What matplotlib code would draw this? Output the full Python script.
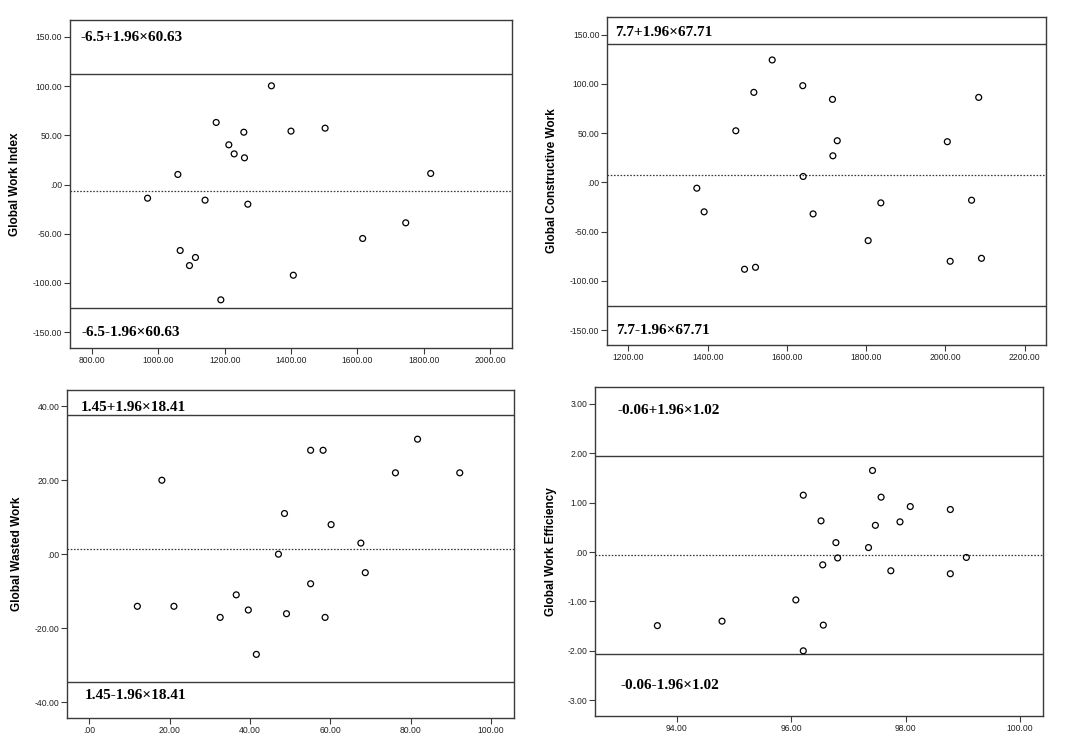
import numpy as np
import matplotlib.pyplot as plt
from matplotlib.ticker import FuncFormatter

plt.rcParams['font.family'] = ['Liberation Sans', 'DejaVu Sans']
plt.rcParams['axes.unicode_minus'] = False

# Global Work Index
gwi_x = [967.7, 1059, 1066, 1094, 1112, 1141, 1174.5, 1188.5, 1212.6, 1228.7,
         1257.8, 1259.8, 1269.9, 1341, 1400, 1407, 1502.8, 1616, 1745.8, 1821]
gwi_y = [-13.9, 10.2, -67.0, -82.3, -74.1, -15.9, 63.0, -117.1, 40.3, 31.1,
         53.1, 27.1, -20.0, 100.2, 54.2, -92.1, 57.2, -54.8, -38.9, 11.2]
gwi_bias, gwi_sd = -6.5, 60.63

# Global Constructive Work
gcw_x = [1372.6, 1391, 1471, 1493, 1516.5, 1520.7, 1562.8, 1640, 1641, 1666,
         1715, 1716, 1727, 1805, 1837, 2004.8, 2012, 2066, 2084, 2091]
gcw_y = [-5.8, -29.8, 52.5, -88.1, 91.5, -86.1, 124.4, 98.3, 6.1, -31.9,
         84.4, 27.1, 42.4, -59.0, -20.7, 41.4, -80.0, -18.0, 86.4, -77.0]
gcw_bias, gcw_sd = 7.7, 67.71

# Global Wasted Work
gww_x = [12.0, 18.1, 21.1, 32.6, 36.6, 39.6, 41.6, 47.1, 48.6, 49.1,
         55.1, 55.1, 58.2, 58.7, 60.2, 67.6, 68.7, 76.2, 81.7, 92.2]
gww_y = [-14.1, 20.0, -14.1, -17.1, -11.0, -15.1, -27.1, 0.0, 11.0, -16.1,
         28.1, -8.0, 28.1, -17.1, 8.0, 3.0, -5.0, 22.0, 31.1, 22.0]
gww_bias, gww_sd = 1.45, 18.41

# Global Work Efficiency
gwe_x = [93.66, 94.79, 96.08, 96.21, 96.21, 96.52, 96.55, 96.56, 96.78, 96.81,
         97.35, 97.42, 97.47, 97.57, 97.74, 97.90, 98.08, 98.78, 98.78, 99.06]
gwe_y = [-1.49, -1.40, -0.97, 1.15, -2.00, 0.63, -0.26, -1.48, 0.19, -0.12,
         0.09, 1.65, 0.54, 1.11, -0.38, 0.61, 0.92, 0.86, -0.44, -0.11]
gwe_bias, gwe_sd = -0.06, 1.02


def spss_fmt(v, pos):
    # SPSS 风格: .00 / -50.00
    if abs(v) < 1e-9:
        return '.00'
    s = f'{v:.2f}'
    if s.startswith('0.'):
        s = s[1:]
    elif s.startswith('-0.'):
        s = '-' + s[2:]
    return s


line_col = '#3a3a3a'

panels = [
    # 数据, 标签, 位置, 坐标范围, 刻度, 文字位置
    dict(x=gwi_x, y=gwi_y, bias=gwi_bias, sd=gwi_sd, label='Global Work Index',
         rect=[0.0646, 0.536, 0.4077, 0.4373], xlim=(734, 2066), ylim=(-166, 167),
         xticks=np.arange(800, 2001, 200), yticks=np.arange(-150, 151, 50),
         lab_x=-0.111, up=(0.023, 0.947), lo=(0.025, 0.048)),
    dict(x=gcw_x, y=gcw_y, bias=gcw_bias, sd=gcw_sd, label='Global Constructive Work',
         rect=[0.560, 0.540, 0.405, 0.4373], xlim=(1146, 2254), ylim=(-165, 168),
         xticks=np.arange(1200, 2201, 200), yticks=np.arange(-150, 151, 50),
         lab_x=-0.111, up=(0.019, 0.954), lo=(0.021, 0.044)),
    dict(x=gww_x, y=gww_y, bias=gww_bias, sd=gww_sd, label='Global Wasted Work',
         rect=[0.0618, 0.0427, 0.4124, 0.4373], xlim=(-5.5, 105.7), ylim=(-44.3, 44.4),
         xticks=np.arange(0, 101, 20), yticks=np.arange(-40, 41, 20),
         lab_x=-0.098, up=(0.031, 0.948), lo=(0.040, 0.069)),
    dict(x=gwe_x, y=gwe_y, bias=gwe_bias, sd=gwe_sd, label='Global Work Efficiency',
         rect=[0.5489, 0.0453, 0.4133, 0.4387], xlim=(92.57, 100.4), ylim=(-3.32, 3.34),
         xticks=np.arange(94, 101, 2), yticks=np.arange(-3, 4, 1),
         lab_x=-0.0855, up=(0.051, 0.929), lo=(0.056, 0.093)),
]

fig = plt.figure(figsize=(10.84, 7.5), dpi=100)

for p in panels:
    ax = fig.add_axes(p['rect'])
    upper = p['bias'] + 1.96 * p['sd']
    lower = p['bias'] - 1.96 * p['sd']

    # 一致性界限与均值线
    ax.axhline(upper, color=line_col, lw=1.0)
    ax.axhline(lower, color=line_col, lw=1.0)
    ax.axhline(p['bias'], color=line_col, lw=0.9, linestyle=(0, (1.3, 1.3)))

    # 散点
    ax.scatter(p['x'], p['y'], s=18, facecolors='none', edgecolors='black',
               linewidths=0.9, zorder=3)

    ax.set_xlim(p['xlim'])
    ax.set_ylim(p['ylim'])
    ax.set_xticks(p['xticks'])
    ax.set_yticks(p['yticks'])
    ax.xaxis.set_major_formatter(FuncFormatter(spss_fmt))
    ax.yaxis.set_major_formatter(FuncFormatter(spss_fmt))
    ax.tick_params(direction='out', length=4, width=0.8, colors=line_col,
                   labelcolor='#222222', labelsize=6.2, pad=1.5)
    for sp in ax.spines.values():
        sp.set_color(line_col)
        sp.set_linewidth(1.0)

    ax.set_ylabel(p['label'], fontsize=8.5, fontweight='bold')
    ax.yaxis.set_label_coords(p['lab_x'], 0.5)

    # 标注文字
    ax.text(p['up'][0], p['up'][1], f"{p['bias']}+1.96×{p['sd']}",
            transform=ax.transAxes, ha='left', va='center',
            family=['Liberation Serif', 'DejaVu Serif'], fontweight='bold', fontsize=11)
    ax.text(p['lo'][0], p['lo'][1], f"{p['bias']}-1.96×{p['sd']}",
            transform=ax.transAxes, ha='left', va='center',
            family=['Liberation Serif', 'DejaVu Serif'], fontweight='bold', fontsize=11)

fig.savefig('out.png', dpi=100, facecolor='white')
